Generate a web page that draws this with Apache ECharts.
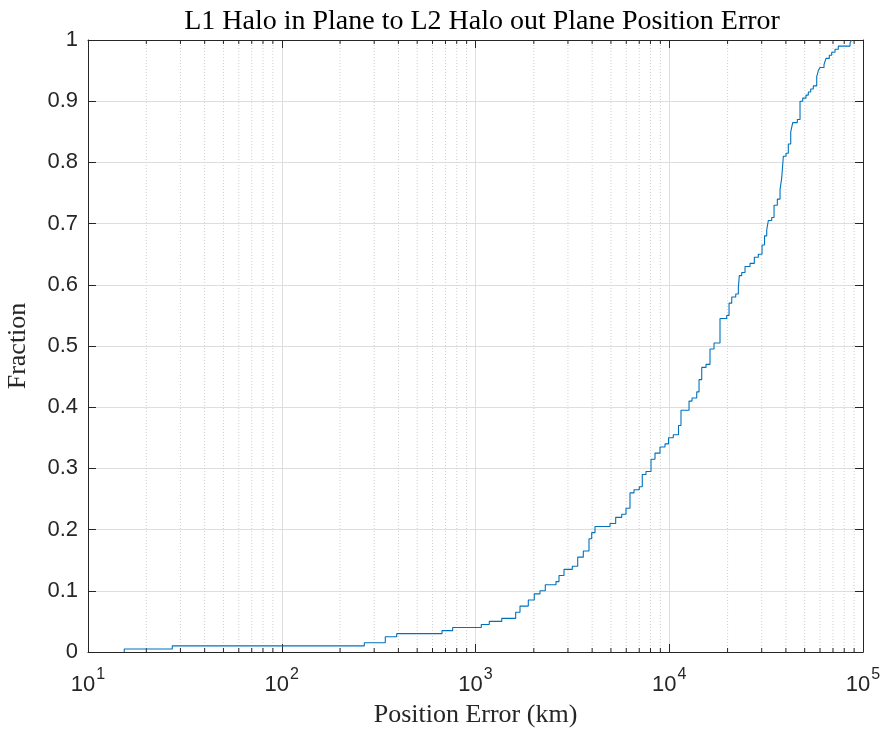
<!DOCTYPE html>
<html><head><meta charset="utf-8">
<script src="https://cdn.jsdelivr.net/npm/echarts@6/dist/echarts.min.js"></script>
<style>html,body{margin:0;padding:0;background:#fff}#c{width:884px;height:730px}</style>
</head><body><div id="c"></div>
<script>
// Position error (km) at each step of the empirical CDF
const posErrorKm = [15.39, 15.39, 27.23, 266.8, 342.3, 392.0, 671.7, 762.6, 1071, 1178, 1366, 1612, 1697, 1873, 2011, 2152, 2292, 2603, 2698, 2863, 3159, 3369, 3601, 3853, 3979, 4138, 4945, 5291, 5683, 5981, 6272, 6577, 7003, 7257, 7586, 8051, 8443, 8960, 9507, 9911, 10493, 11161, 11497, 12650, 13109, 13862, 14246, 14710, 15481, 16233, 17024, 18280, 19803, 20352, 21016, 22038, 22729, 22999, 23665, 24612, 26117, 27486, 28824, 30121, 31028, 31850, 32462, 33800, 34737, 36127, 37306, 38067, 38798, 40062, 41172, 42363, 43381, 45817, 47310, 48854, 50805, 52214, 53723, 55411, 57696, 58804, 60004, 62922, 64434, 67011, 68948, 71706, 74578, 85697, 87447];
// Cumulative fraction at each step
const fraction = [0, 0.005, 0.01, 0.015, 0.025, 0.03, 0.035, 0.04, 0.045, 0.05, 0.055, 0.065, 0.075, 0.085, 0.095, 0.1, 0.11, 0.115, 0.125, 0.135, 0.14, 0.155, 0.165, 0.185, 0.195, 0.205, 0.21, 0.22, 0.225, 0.235, 0.26, 0.265, 0.27, 0.29, 0.295, 0.315, 0.325, 0.335, 0.34, 0.35, 0.355, 0.37, 0.395, 0.41, 0.415, 0.425, 0.445, 0.465, 0.47, 0.495, 0.505, 0.545, 0.55, 0.57, 0.58, 0.585, 0.595, 0.615, 0.62, 0.63, 0.635, 0.645, 0.65, 0.665, 0.68, 0.69, 0.705, 0.71, 0.73, 0.74, 0.755, 0.775, 0.81, 0.815, 0.83, 0.85, 0.865, 0.87, 0.9, 0.905, 0.91, 0.915, 0.92, 0.925, 0.94, 0.95, 0.955, 0.96, 0.97, 0.975, 0.98, 0.985, 0.99, 0.995, 1.0];
// Minor tick positions on the log axis
const minorTicks = [20,30,40,50,60,70,80,90,200,300,400,500,600,700,800,900,2000,3000,4000,5000,6000,7000,8000,9000,20000,30000,40000,50000,60000,70000,80000,90000];
const yTicks = [0,0.1,0.2,0.3,0.4,0.5,0.6,0.7,0.8,0.9,1];

const axisColor = '#262626';
const serif = 'Liberation Serif';
const sans = 'Liberation Sans';
const chart = echarts.init(document.getElementById('c'), null, {renderer:'canvas'});
const supLabel = v => '{b|10}{s|' + Math.round(Math.log10(v)) + '}';
chart.setOption({
  animation: false,
  title: {
    text: 'L1 Halo in Plane to L2 Halo out Plane Position Error',
    left: 477, top: 3, textAlign: 'center',
    textStyle: {fontFamily: serif, fontSize: 28, fontWeight: 'normal', color: '#000'}
  },
  grid: {left: 88, right: 21, top: 40, bottom: 78, containLabel: false, outerBoundsMode: 'none'},
  xAxis: [{
    type: 'log', logBase: 10, min: 10, max: 100000,
    name: 'Position Error (km)', nameLocation: 'middle', nameGap: 50,
    nameTextStyle: {fontFamily: serif, fontSize: 26, color: axisColor},
    axisLine: {show: true, onZero: false, lineStyle: {color: axisColor, width: 1}},
    axisTick: {show: true, inside: true, length: 8, lineStyle: {color: axisColor}},
    axisLabel: {
      formatter: supLabel, margin: 14, color: axisColor,
      rich: {
        b: {fontFamily: sans, fontSize: 22, color: axisColor, padding: [8,0,0,0]},
        s: {fontFamily: sans, fontSize: 16, color: axisColor, padding: [0,0,12,1]}
      }
    },
    splitLine: {show: true, lineStyle: {color: '#dedede', width: 1}}
  }, {
    type: 'log', logBase: 10, min: 10, max: 100000, position: 'top',
    axisLine: {show: true, onZero: false, lineStyle: {color: axisColor, width: 1}},
    axisTick: {show: true, inside: true, length: 8, lineStyle: {color: axisColor}},
    axisLabel: {show: false}, splitLine: {show: false}
  }],
  yAxis: [{
    type: 'value', min: 0, max: 1, interval: 0.1,
    name: 'Fraction', nameLocation: 'middle', nameGap: 57, nameRotate: 90,
    nameTextStyle: {fontFamily: serif, fontSize: 26, color: axisColor},
    axisLine: {show: true, lineStyle: {color: axisColor, width: 1}},
    axisTick: {show: true, inside: true, length: 8, lineStyle: {color: axisColor}},
    axisLabel: {
      margin: 10, color: axisColor, fontFamily: sans, fontSize: 22,
      formatter: v => { const t = yTicks.find(k => Math.abs(k - v) < 1e-9); return String(Math.round((t !== undefined ? t : v) * 10) / 10); }
    },
    splitLine: {show: true, lineStyle: {color: '#dedede', width: 1}}
  }, {
    type: 'value', min: 0, max: 1, interval: 0.1, position: 'right',
    axisLine: {show: true, lineStyle: {color: axisColor, width: 1}},
    axisTick: {show: true, inside: true, length: 8, lineStyle: {color: axisColor}},
    axisLabel: {show: false}, splitLine: {show: false}
  }],
  series: [{
    type: 'custom', silent: true, z: 1,
    xAxisIndex: 0, yAxisIndex: 0,
    data: minorTicks.map(v => [v, 0]),
    encode: {x: 0, y: 1},
    renderItem: (params, api) => {
      const v = api.value(0);
      const b = api.coord([v, 0]);
      const t = api.coord([v, 1]);
      return {type: 'group', children: [
        {type: 'line', shape: {x1: b[0], y1: b[1], x2: t[0], y2: t[1]}, style: {stroke: '#cfcfcf', lineWidth: 1, lineDash: [1, 2]}},
        {type: 'line', shape: {x1: b[0], y1: b[1], x2: b[0], y2: b[1] - 4}, style: {stroke: axisColor, lineWidth: 1}},
        {type: 'line', shape: {x1: t[0], y1: t[1], x2: t[0], y2: t[1] + 4}, style: {stroke: axisColor, lineWidth: 1}}
      ]};
    }
  }, {
    type: 'line', step: 'end', showSymbol: false, symbol: 'none', z: 5,
    xAxisIndex: 0, yAxisIndex: 0,
    lineStyle: {color: '#0072BD', width: 1.1},
    data: posErrorKm.map((x, i) => [x, fraction[i]])
  }]
});
</script></body></html>
